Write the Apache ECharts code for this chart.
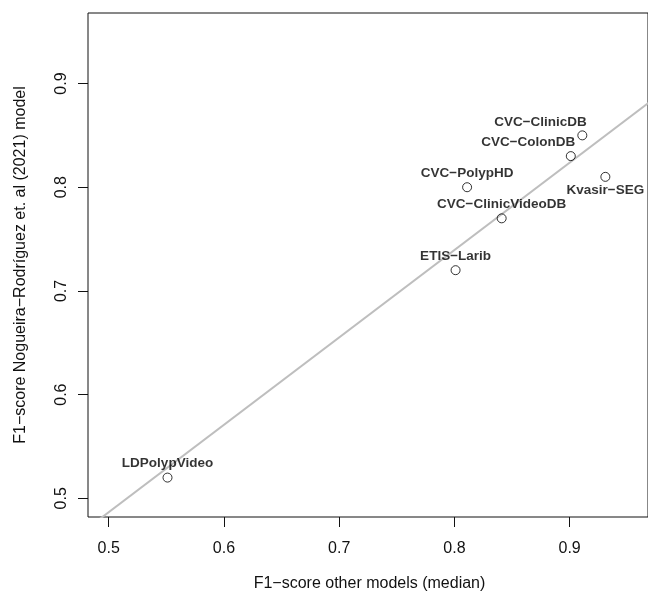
<!DOCTYPE html>
<html>
<head>
<meta charset="utf-8">
<script src="https://cdn.jsdelivr.net/npm/echarts@6/dist/echarts.min.js"></script>
<style>
html,body{margin:0;padding:0;background:#fff;}
#chart{width:648px;height:594px;}
</style>
</head>
<body>
<div id="chart"></div>
<script>
// ---- data ----
const datasetNames = ['LDPolypVideo', 'ETIS−Larib', 'CVC−ClinicVideoDB', 'CVC−PolypHD', 'CVC−ColonDB', 'CVC−ClinicDB', 'Kvasir−SEG'];
const xValues = [0.551, 0.801, 0.841, 0.811, 0.901, 0.911, 0.931]; // F1-score other models (median)
const yValues = [0.52, 0.72, 0.77, 0.80, 0.83, 0.85, 0.81]; // F1-score Nogueira-Rodríguez et al (2021)
const xTicks = [0.5, 0.6, 0.7, 0.8, 0.9];
const yTicks = [0.5, 0.6, 0.7, 0.8, 0.9];
const xRange = [0.482, 0.968];
const yRange = [0.482, 0.968];
const xTitle = 'F1−score other models (median)';
const yTitle = 'F1−score Nogueira−Rodríguez et. al (2021) model';

// ---- label placement (style, kept apart from data) ----
const labelPlacement = {
  'CVC−ClinicDB': 'topLeft',
  'CVC−ColonDB': 'topLeft',
  'Kvasir−SEG': 'bottom'
};

// least-squares fit of y on x (drawn as the grey line)
const n = xValues.length;
const mx = xValues.reduce((a, b) => a + b, 0) / n;
const my = yValues.reduce((a, b) => a + b, 0) / n;
let sxy = 0, sxx = 0;
for (let i = 0; i < n; i++) { sxy += (xValues[i] - mx) * (yValues[i] - my); sxx += (xValues[i] - mx) ** 2; }
const slope = sxy / sxx;
const intercept = my - slope * mx;
const fitLine = [xRange[0] - 0.05, xRange[1] + 0.05].map(x => [x, intercept + slope * x]);

const FONT = '"Liberation Sans", Arial, Helvetica, sans-serif';

const pointData = datasetNames.map((name, i) => {
  const p = labelPlacement[name] || 'top';
  const label = {
    show: true,
    formatter: name,
    fontFamily: FONT,
    fontWeight: 'bold',
    fontSize: 13.5,
    lineHeight: 14,
    color: '#000'
  };
  if (p === 'top') { label.position = 'top'; label.distance = 2; }
  else if (p === 'topLeft') { label.position = 'top'; label.align = 'right'; label.distance = 1.5; label.offset = [4.5, 0]; }
  else if (p === 'bottom') { label.position = 'bottom'; label.distance = 1; }
  return { name: name, value: [xValues[i], yValues[i]], label: label };
});

const chart = echarts.init(document.getElementById('chart'), null, { renderer: 'canvas' });
chart.setOption({
  animation: false,
  backgroundColor: '#fff',
  grid: { left: 88, top: 13, width: 563, height: 504, show: true, borderColor: '#111', borderWidth: 1, backgroundColor: 'transparent', containLabel: false },
  xAxis: {
    type: 'value', min: xRange[0], max: xRange[1],
    axisLine: { show: false, onZero: false },
    splitLine: { show: false },
    axisTick: { show: true, length: 10, customValues: xTicks, lineStyle: { color: '#111', width: 1 } },
    axisLabel: { customValues: xTicks, margin: 23.5, fontSize: 16, color: '#111', fontFamily: FONT, formatter: v => v.toFixed(1) }
  },
  yAxis: {
    type: 'value', min: yRange[0], max: yRange[1],
    axisLine: { show: false, onZero: false },
    splitLine: { show: false },
    axisTick: { show: true, length: 10, customValues: yTicks, lineStyle: { color: '#111', width: 1 } },
    axisLabel: { customValues: yTicks, rotate: 90, margin: 18, fontSize: 16, color: '#111', fontFamily: FONT, formatter: v => v.toFixed(1) }
  },
  graphic: [
    { type: 'text', x: 369.5, y: 584, style: { text: xTitle, font: '16px ' + FONT, fill: '#111', textAlign: 'center', textVerticalAlign: 'middle' } },
    { type: 'text', x: 21, y: 265, rotation: Math.PI / 2, style: { text: yTitle, font: '16px ' + FONT, fill: '#111', textAlign: 'center', textVerticalAlign: 'middle' } }
  ],
  series: [
    {
      type: 'line', data: fitLine, showSymbol: false, silent: true, clip: true, z: 1,
      lineStyle: { color: '#bebebe', width: 2 }
    },
    {
      type: 'scatter', data: pointData, symbol: 'circle', symbolSize: 9, z: 3,
      itemStyle: { color: 'rgba(255,255,255,0)', borderColor: '#000', borderWidth: 1 }
    }
  ]
});
</script>
</body>
</html>
